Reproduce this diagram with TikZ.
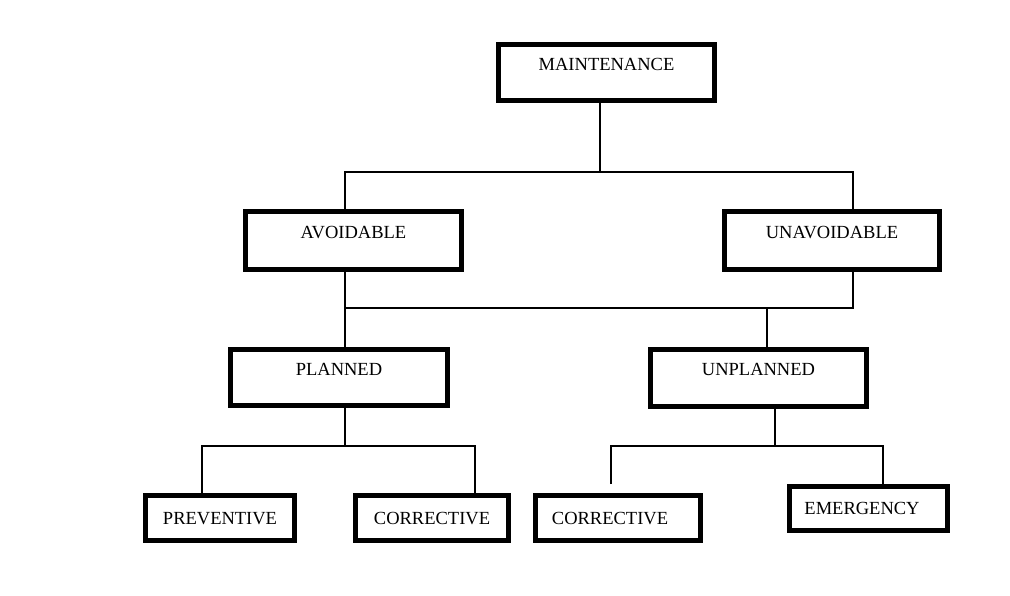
\documentclass[tikz,border=0pt]{standalone}
\usepackage{fontspec}
\setmainfont{Liberation Serif}
\usetikzlibrary{calc,positioning}
\tikzset{
  line/.style={draw, line width=1.6pt},
  box/.style={
    rectangle,
    draw, line width=5pt,
    inner sep=0pt,
    font=\fontsize{18.5}{18.5}\selectfont,
    text height=12pt,
    minimum width=216pt,
    minimum height=56pt},
  upper/.style={text depth=17pt},
  lower/.style={text depth=0pt, minimum height=45pt},
}

\begin{document}
\begin{tikzpicture}
  [x=1pt, y=-1pt]
  \fill[white] (0,0) rectangle (1010,595);
     \node[box, upper] (Maintenance) at (606.5,72.5) {MAINTENANCE};
     \node[box, upper, minimum height=58pt] (Avoidable) at (353.5,240.5) {AVOIDABLE};
     \node[box, upper, minimum height=58pt, minimum width=215pt] (Unavoidable) at (832,240.5) {UNAVOIDABLE};
     \node[box, upper, minimum width=217pt] (Planned) at (339,377.5) {PLANNED};
     \node[box, upper, minimum height=57pt] (Unplanned) at (758.5,378) {UNPLANNED};
     \node[box, lower, minimum width=149pt] (Preventive) at (220,518) {PREVENTIVE};
     \node[box, lower, minimum width=153pt] (PlannedCorrective) at (432,518) {CORRECTIVE};
     \node[box, lower, minimum width=165pt] (UnplannedCorrective) at (618,518) {CORRECTIVE\kern16pt};
     \node[box, lower, minimum width=158pt, minimum height=44pt] (Emergency) at (868.5,508.5) {EMERGENCY\kern13pt};
  % bus points of the tree
     \coordinate (TopBus) at (600,172);
     \coordinate (TopBusL) at (345,172);
     \coordinate (TopBusR) at (853,172);
     \coordinate (MidBusL) at (345,308);
     \coordinate (MidBusR) at (853,308);
     \coordinate (MidBusU) at (767,308);
     \coordinate (PlanBus) at (345,446);
     \coordinate (PlanBusL) at (202,446);
     \coordinate (PlanBusR) at (475,446);
     \coordinate (UnplanBus) at (775,446);
     \coordinate (UnplanBusL) at (611,446);
     \coordinate (UnplanBusR) at (883,446);
     \coordinate (CorrectiveEnd) at (611,484);
  % connectors
     \draw[line] (Maintenance.south -| TopBus) -- (TopBus);
     \draw[line] (Avoidable.north -| TopBusL) -- (TopBusL) -- (TopBusR) -- (Unavoidable.north -| TopBusR);
     \draw[line] (Avoidable.south -| MidBusL) -- (Planned.north -| MidBusL);
     \draw[line] (Unavoidable.south -| MidBusR) -- (MidBusR) -- (MidBusL);
     \draw[line] (MidBusU) -- (Unplanned.north -| MidBusU);
     \draw[line] (Planned.south -| PlanBus) -- (PlanBus);
     \draw[line] (Preventive.north -| PlanBusL) -- (PlanBusL) -- (PlanBusR) -- (PlannedCorrective.north -| PlanBusR);
     \draw[line] (Unplanned.south -| UnplanBus) -- (UnplanBus);
     \draw[line] (CorrectiveEnd) -- (UnplanBusL) -- (UnplanBusR) -- (Emergency.north -| UnplanBusR);
\end{tikzpicture}
\end{document}
